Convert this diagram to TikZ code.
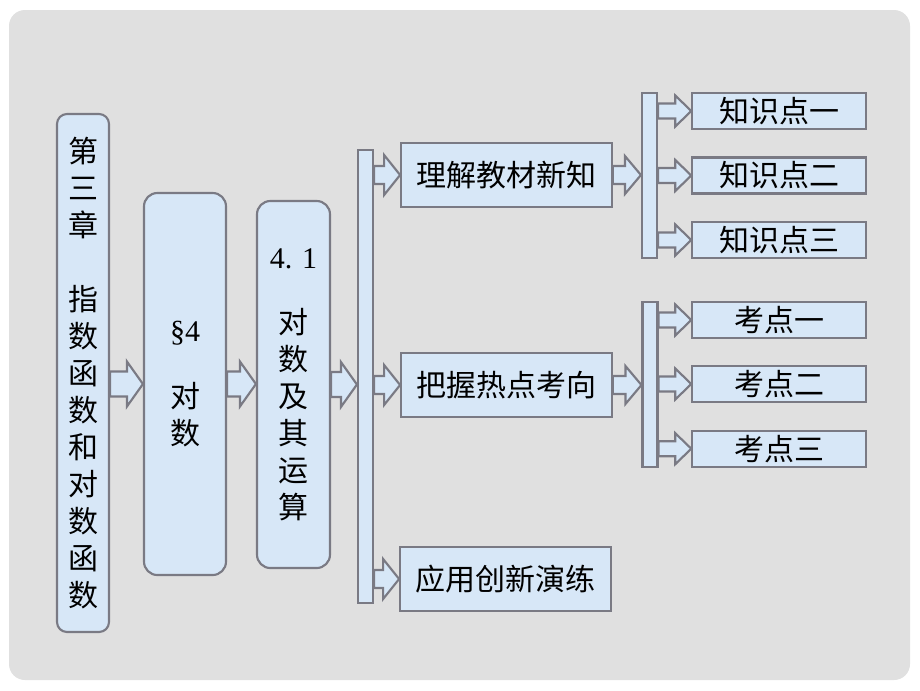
\documentclass[tikz,border=0pt]{standalone}
\usepackage{fontspec}
\setmainfont{Liberation Serif}
\newfontfamily\cjk{Noto Sans CJK SC}
\usetikzlibrary{calc}

% wide hollow arrow: body half height, head half height, start, target
\newcommand{\fatarrow}[4]{%
	\coordinate (fa-s) at (#3);
	\coordinate (fa-e) at (#4 |- fa-s);
	\draw [blockarrow] ($(fa-s)+(0,-#1)$) -- ($(fa-e)+(-16,-#1)$) -- ($(fa-e)+(-16,-#2)$) -- (fa-e) -- ($(fa-e)+(-16,#2)$) -- ($(fa-e)+(-16,#1)$) -- ($(fa-s)+(0,#1)$) -- cycle ;
}

\begin{document}
\begin{tikzpicture}[x=0.75pt,y=0.75pt,yscale=-1,xscale=1,
	panel/.style={draw={rgb, 255:red, 122; green, 122; blue, 132 }, line width=1.6pt, fill={rgb, 255:red, 215; green, 231; blue, 247 }, inner sep=0pt},
	tallbox/.style={panel, align=center, font=\cjk\fontsize{22.5}{27.75}\selectfont},
	railbar/.style={panel, minimum width=11.25pt},
	topicbox/.style={panel, minimum width=158pt, minimum height=47.5pt, font=\cjk\fontsize{22.5}{27}\selectfont},
	pointbox/.style={panel, minimum width=130pt, minimum height=27pt, font=\cjk\fontsize{22.5}{27}\selectfont},
	blockarrow/.style={draw={rgb, 255:red, 122; green, 122; blue, 132 }, line width=1.6pt, fill={rgb, 255:red, 215; green, 231; blue, 247 }, line join=miter}]
	\useasboundingbox (0,0) rectangle (920,690);
	\fill [white] (0,0) rectangle (920,690);
	%Rounded Rect background
	\fill [color={rgb, 255:red, 224; green, 224; blue, 224 }, rounded corners=12pt] (9,10) rectangle (910,680);
	
	% Chapter, section, subsection
	\node [tallbox, rounded corners=7.5pt, minimum width=39pt, minimum height=388.5pt] (chap) at (83,373) {第\\三\\章\\[27.75pt]指\\数\\函\\数\\和\\对\\数\\函\\数};
	\node [tallbox, rounded corners=10pt, minimum width=61.5pt, minimum height=286.5pt] (sect) at (185,384) {{\rmfamily §4}\\[22pt]对\\数};
	\node [tallbox, rounded corners=10pt, minimum width=54.75pt, minimum height=275.25pt] (subsect) at (293.5,384.5) {{\rmfamily 4. 1}\\[21pt]对\\数\\及\\其\\运\\算};
	% Bars
	\node [railbar, minimum height=339.75pt] (bara) at (365.5,376.5) {};
	\node [railbar, minimum height=123.75pt] (barb) at (649.5,175.5) {};
	\node [railbar, minimum height=123.75pt] (barc) at (650,384.5) {};
	
	% Text Node
	\node [topicbox] (learn) at (506.5,175) {理解教材新知};
	% Text Node
	\node [topicbox] (grasp) at (506.5,385) {把握热点考向};
	% Text Node
	\node [topicbox] (apply) at (505.5,579) {应用创新演练};
	
	% Text Node
	\node [pointbox] (know1) at (779,111) {知识点一};
	\node [pointbox] (know2) at (779,175.5) {知识点二};
	\node [pointbox] (know3) at (779,240) {知识点三};
	% Text Node
	\node [pointbox] (exam1) at (779,320) {考点一};
	\node [pointbox] (exam2) at (779,384) {考点二};
	\node [pointbox] (exam3) at (779,448.7) {考点三};
	
	% Arrows
	\fatarrow{12.5}{22.5}{chap.east |- sect.center}{sect.west}
	\fatarrow{12.5}{22.5}{sect.east}{subsect.west}
	\fatarrow{12.5}{22.5}{subsect.east}{bara.west}
	\fatarrow{9}{20}{bara.east |- learn.west}{learn.west}
	\fatarrow{9}{20}{bara.east |- grasp.west}{grasp.west}
	\fatarrow{9}{20}{bara.east |- apply.west}{apply.west}
	\fatarrow{9}{19}{learn.east}{barb.west}
	\fatarrow{9}{19}{grasp.east}{barc.west}
	\fatarrow{7.5}{15.5}{barb.east |- know1.west}{know1.west}
	\fatarrow{7.5}{15.5}{barb.east |- know2.west}{know2.west}
	\fatarrow{7.5}{15.5}{barb.east |- know3.west}{know3.west}
	\fatarrow{7.5}{15.5}{barc.east |- exam1.west}{exam1.west}
	\fatarrow{7.5}{15.5}{barc.east |- exam2.west}{exam2.west}
	\fatarrow{7.5}{15.5}{barc.east |- exam3.west}{exam3.west}
	
\end{tikzpicture}
\end{document}
